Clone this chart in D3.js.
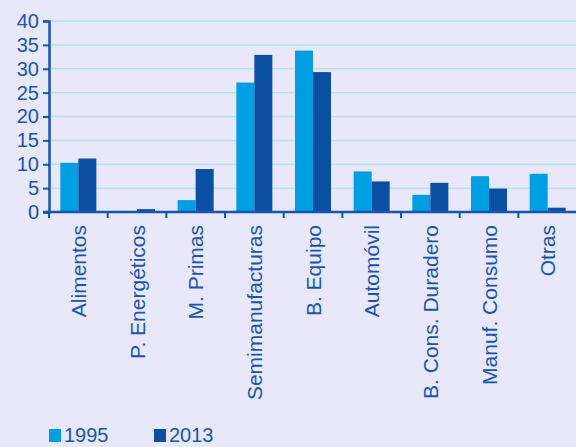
<!DOCTYPE html>
<html>
<head>
<meta charset="utf-8">
<script src="https://d3js.org/d3.v7.min.js"></script>
<style>
  body { margin: 0; background: #e8e8fa; }
  svg { display: block; }
</style>
</head>
<body>
<div id="chart"></div>
<script>
// data
var categories = ["Alimentos", "P. Energéticos", "M. Primas", "Semimanufacturas", "B. Equipo",
                  "Automóvil", "B. Cons. Duradero", "Manuf. Consumo", "Otras"];
var series = ["1995", "2013"];
var values1995 = [10.3, 0.1, 2.5, 27.1, 33.8, 8.5, 3.6, 7.5, 8.0];
var values2013 = [11.2, 0.6, 9.0, 32.9, 29.3, 6.4, 6.1, 4.9, 0.9];
var yTicks = [0, 5, 10, 15, 20, 25, 30, 35, 40];

var colors = ["#009fe3", "#0b4fa3"];
var axisColor = "#1656b0";

var width = 576, height = 447,
    margin = {top: 21, right: 0, bottom: 235, left: 49};

var svg = d3.select("#chart").append("svg")
  .attr("width", width)
  .attr("height", height);

var x = d3.scaleBand()
  .domain(categories)
  .range([margin.left, width - margin.right + 1]);

var x1 = d3.scaleBand()
  .domain(series)
  .range([0, 36]);

var y = d3.scaleLinear()
  .domain([0, 40])
  .range([height - margin.bottom, margin.top]);

// gridlines
svg.append("g")
  .selectAll("line")
  .data(yTicks.slice(1))
  .enter()
  .append("line")
  .attr("x1", margin.left)
  .attr("x2", width)
  .attr("y1", function(d) { return y(d); })
  .attr("y2", function(d) { return y(d); })
  .style("stroke", "#b3e0f7")
  .style("stroke-width", 1.5);

// bars
var rows = categories.map(function(c, i) {
  return {cat: c, vals: [values1995[i], values2013[i]]};
});

var groups = svg.append("g")
  .selectAll("g")
  .data(rows)
  .enter()
  .append("g")
  .attr("transform", function(d) {
    return "translate(" + (x(d.cat) + x.bandwidth() / 2 - 18) + ",0)";
  });

groups.selectAll("rect")
  .data(function(d) { return d.vals.map(function(v, j) { return {s: series[j], v: v, j: j}; }); })
  .enter()
  .append("rect")
  .attr("x", function(d) { return x1(d.s); })
  .attr("width", x1.bandwidth())
  .attr("y", function(d) { return y(d.v); })
  .attr("height", function(d) { return y(0) - y(d.v); })
  .style("fill", function(d) { return colors[d.j]; });

// y axis
var yAxis = svg.append("g")
  .attr("transform", "translate(" + margin.left + ",0)")
  .call(d3.axisLeft(y).tickValues(yTicks).tickSize(6).tickPadding(4));

// x axis, ticks at the band edges
var xAxis = svg.append("g")
  .attr("transform", "translate(0," + y(0) + ")");

xAxis.append("line")
  .attr("x1", margin.left - 6)
  .attr("x2", width)
  .style("stroke", axisColor)
  .style("stroke-width", 2.5);

xAxis.selectAll(".edge")
  .data(categories)
  .enter()
  .append("line")
  .attr("class", "edge")
  .attr("x1", function(d) { return x(d); })
  .attr("x2", function(d) { return x(d); })
  .attr("y1", 0)
  .attr("y2", 6)
  .style("stroke", axisColor)
  .style("stroke-width", 2);

xAxis.selectAll("text")
  .data(categories)
  .enter()
  .append("text")
  .attr("transform", function(d) {
    return "translate(" + (x(d) + x.bandwidth() / 2 + 7.5) + ",13) rotate(-90)";
  })
  .style("text-anchor", "end")
  .style("font", "21px 'Liberation Sans', Arial, sans-serif")
  .style("fill", axisColor)
  .text(function(d) { return d; });

yAxis.select(".domain").style("stroke", axisColor).style("stroke-width", 2.5);
yAxis.selectAll(".tick line").style("stroke", axisColor).style("stroke-width", 2);
yAxis.selectAll(".tick text")
  .style("font", "20px 'Liberation Sans', Arial, sans-serif")
  .style("fill", axisColor);

// legend (kept just inside the bottom edge)
var legend = svg.append("g")
  .selectAll("g")
  .data(series)
  .enter()
  .append("g")
  .attr("transform", function(d, i) { return "translate(" + (49 + i * 105) + ",428)"; });

legend.append("rect")
  .attr("y", 1)
  .attr("width", 12)
  .attr("height", 13)
  .style("fill", function(d, i) { return colors[i]; });

legend.append("text")
  .attr("x", 15)
  .attr("y", 14)
  .style("font", "20px 'Liberation Sans', Arial, sans-serif")
  .style("fill", axisColor)
  .text(function(d) { return d; });
</script>
</body>
</html>
